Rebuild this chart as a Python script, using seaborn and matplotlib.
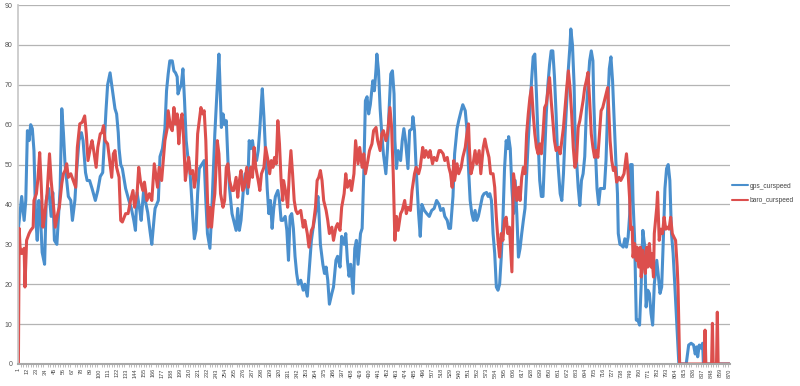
import pandas as pd
import matplotlib
matplotlib.use('Agg')
import matplotlib.pyplot as plt
import seaborn as sns

sns.set_theme(style='white')
plt.rcParams['font.family'] = ['Liberation Sans', 'DejaVu Sans']

# --- datos (índice de muestra, velocidad) ---
gps_idx = [1, 5, 8, 10, 12, 14, 16, 18, 20, 22, 24, 26, 28, 30, 33, 35, 38, 41, 43, 45,
           48, 50, 52, 54, 56, 58, 60, 62, 65, 67, 70, 72, 75, 78, 80, 83, 85, 88, 91, 95,
           98, 101, 104, 106, 108, 110, 113, 115, 117, 119, 121, 123, 124, 126, 128, 132, 136, 139, 142, 144,
           146, 149, 151, 154, 156, 159, 162, 164, 167,
           168, 172, 174, 177, 180, 182, 184, 186, 189, 191, 193, 195, 196, 198, 200, 202, 204, 206, 208, 210,
           212, 214, 216, 218, 220, 222, 225, 228, 230, 232, 235, 237, 239, 241, 244, 246, 247, 249, 251, 253,
           255, 257, 259, 262, 264, 267, 269, 271, 273, 276, 278, 281, 283, 285, 287, 290, 292, 294, 296, 298,
           299, 301, 303, 305, 307, 309, 311, 313, 315, 318, 320, 322, 324, 327, 329, 331, 333, 335, 337, 339,
           341, 343, 346, 349, 351, 354, 356, 359, 361, 364, 367, 368, 370, 373, 375, 377, 379, 381, 384, 386,
           389, 391, 394, 396, 399, 401, 403, 405, 407, 410, 412, 414, 416, 419, 421, 423, 425, 427, 429, 431,
           434, 436, 438, 439, 441, 443, 445, 447, 450, 452, 454, 456, 458, 460, 461, 463, 465, 468, 470, 472,
           474, 477, 479, 482, 483, 485, 487, 490, 492, 494, 497, 500, 503, 506, 509, 512,
           515, 517, 520, 522, 525, 527, 529, 532, 534, 537, 539, 542, 544, 547, 549, 551, 553, 555, 557, 559,
           561, 563, 565, 568, 570, 573, 575, 577, 579, 581, 583, 585, 587, 589, 591, 593, 595, 597, 599, 600,
           602, 604, 606, 608, 610, 612, 614, 616, 618, 620, 622, 624, 626, 628, 630, 632, 634, 636, 638, 640,
           642, 644, 646, 648, 650, 652, 654, 656, 658, 660, 663, 665, 667, 669, 671, 673, 675, 676, 678, 680,
           681, 683, 685, 687,
           689, 691, 693, 695, 697, 699, 701, 703, 704, 706, 708, 710, 712, 714, 717, 719, 721, 723, 725, 727,
           729, 731, 733, 734, 736, 738, 740, 742, 744, 746, 748, 749, 751, 752, 754, 756, 758, 760, 762, 764,
           766, 768, 770, 772, 774, 776, 778, 781, 783, 785, 787, 789, 791, 793, 795, 797, 799, 801, 803, 808,
           817, 820, 823, 826, 828, 830, 831, 833, 835, 837, 838, 870]
gps_speed = [34, 42, 36, 41, 58.5, 56, 60, 59, 53.5, 37, 31, 41, 37, 28, 25, 41, 44, 37, 43, 31,
             30, 37, 44, 64, 58, 50, 46, 42, 41, 36, 41, 48, 56, 58, 56, 48, 46, 46, 44, 41,
             43.5, 47, 48, 56, 63.5, 70, 73, 70, 67, 64, 62.7, 58, 54, 50, 49, 44, 41, 39, 36, 33.5,
             43, 39, 36, 43.5, 41, 38, 33, 30, 37,
             39, 41, 52, 54, 59, 68.5, 72.7, 76, 76, 73.5, 73, 72, 67.7, 69, 70, 74, 66, 56, 52, 50,
             44, 37, 31.4, 33.5, 42.7, 49, 50, 51, 41, 32.7, 29, 37, 47.7, 57.7, 70, 77.7, 72, 59.3, 62.7, 60,
             61, 51, 44, 37.7, 36, 33.5, 39, 33.5, 36, 44, 47.7, 42.7, 56, 54, 56, 51, 51, 53.5, 59, 66,
             69, 62, 52.7, 44, 37.7, 41, 34, 39, 42, 43.5, 41, 36, 36, 37, 33.5, 26, 37, 37.7, 34, 27,
             22.7, 20, 21, 18.5, 20, 17, 22.7, 31, 34, 37.7, 42, 39, 30, 25, 22.7, 24.3, 21, 15, 17.7, 19.3,
             26, 27, 24.3, 32, 30, 32.7, 26, 22, 25, 17.7, 29, 31, 25, 32.7, 34, 47.7, 66, 67, 62.7, 65,
             71, 68.5, 74, 77.7, 73.5, 64, 57.7, 52.7, 47.7, 54, 64, 72.7, 73.5, 67.7, 56, 49, 53.5, 51, 56, 59,
             56, 49, 58.5, 59, 62, 58.5, 49, 37.7, 32, 40, 38.5, 37.7, 37, 38.5, 39, 41,
             40, 38.5, 39, 37, 36, 34, 34, 42, 52.7, 59, 61, 63.5, 65, 63.5, 59, 49, 41, 37.7, 36, 38.5,
             36, 37, 39, 42, 42.7, 43, 42, 42.7, 41, 32.7, 27.7, 19.3, 18.5, 20, 26.8, 36, 49, 56, 54, 57,
             54, 44, 37.7, 46, 37.7, 26.8, 29, 32.7, 36, 39, 47.7, 56, 63.5, 71, 77, 77.7, 67.7, 56, 46, 42,
             42, 52.7, 62.7, 70, 75, 78.5, 78.5, 72, 62.7, 51, 42.7, 41, 47.7, 57.7, 66, 74, 80, 84, 80, 70,
             59.3, 51, 44.3, 39.75,
             46, 47.7, 52, 63.5, 70, 76, 78.5, 76, 66, 54, 44, 40, 44, 44, 44, 51, 64, 74, 77, 71,
             61, 51, 42.7, 32.7, 30, 29.75, 29.3, 31.4, 29.3, 31.8, 37.7, 50, 50, 41, 31, 11, 11, 9.75, 20, 33.5,
             30, 14.3, 18.5, 17.7, 12.7, 9.75, 20, 26, 22, 17.7, 19.3, 31, 44, 49, 50, 46, 32.7, 27.7, 20, 0,
             0, 4.75, 5.2, 4.75, 2.5, 4.3, 1.8, 4.75, 4, 5.2, 0, 0]

baro_idx = [1, 2, 3, 5, 8, 9, 11, 14, 16, 19, 20, 23, 25, 27, 29, 31, 33, 36, 39, 41,
            44, 46, 49, 51, 54, 56, 58, 60, 62, 65, 68, 71, 73, 76, 79, 82, 84, 86, 89, 91,
            93, 96, 98, 101, 103, 105, 107, 110, 112, 115, 117, 119, 121, 124, 126, 128, 132, 135, 138, 141,
            143, 146, 148, 150, 153, 155, 158, 161, 164, 167,
            171, 173, 176, 178, 180, 183, 184, 187, 189, 191, 193, 195, 197, 199, 201, 203, 205, 207, 209, 211,
            214, 216, 218, 220, 222, 224, 226, 228, 230, 232, 233, 235, 237, 239, 241, 243, 244, 246, 248, 251,
            253, 255, 257, 259, 262, 264, 267, 269, 271, 273, 275, 277, 280, 282, 285, 287, 289, 291, 294, 296,
            298, 301, 303, 306, 308, 310, 312, 314, 316, 318, 320, 322, 324, 325, 328, 330, 332, 334, 336, 338,
            340, 342, 346, 349, 351, 354, 356, 359, 361, 364, 366, 368, 370, 372, 374, 377, 379, 381, 384, 386,
            389, 391, 394, 396, 399, 401, 403, 406, 408, 411, 413, 416, 418, 421, 423, 425, 428, 430, 433, 435,
            438, 440, 443, 445, 447, 450, 452, 455, 457, 459, 461, 463, 465, 468, 470, 473, 475, 477, 480, 482,
            485, 487, 490, 492, 495, 497, 499, 502, 504, 507, 509, 512, 515,
            517, 520, 522, 525, 527, 529, 531, 533, 534, 537, 539, 542, 544, 547, 549, 551, 552, 554, 556, 559,
            561, 564, 566, 569, 571, 573, 576, 578, 581, 583, 585, 587, 589, 591, 593, 595, 597, 599, 601, 604,
            606, 608, 610, 612, 614, 616, 618, 620, 622, 624, 626, 628, 630, 632, 634, 636, 638, 640, 642, 644,
            646, 648, 650, 652, 654, 656, 658, 661, 663, 665, 667, 669, 671, 673, 675, 677, 679, 681, 683,
            685, 687, 689, 691, 693, 695, 697, 699, 701, 703, 705, 707, 709, 711, 713, 715, 717, 719, 721, 722,
            724, 726, 728, 730, 732, 735, 737, 739, 741, 743, 744, 746, 748, 749, 751, 752, 754, 756, 757, 759,
            761, 762, 764, 765, 767, 769, 770, 772, 774, 775, 777, 778, 781, 782, 784, 786, 788, 790, 792, 794,
            796, 798, 800, 802, 804, 806, 807, 809, 839, 840, 841, 848, 849, 850, 854, 855, 856, 870]
baro_speed = [0, 34, 29.3, 27.7, 29, 19.3, 31, 32.7, 33.5, 34.3, 41, 42.7, 46.8, 53, 44.3, 34.3, 37, 42.7, 52.7, 46,
              39.3, 34.3, 37.7, 39.3, 45.2, 47.7, 48.5, 50.2, 46.8, 47.7, 46, 44.3, 54.3, 60.2, 60.6, 62.2, 57.7, 51, 54.3, 56,
              53.5, 49.3, 54.3, 57.7, 58, 59.75, 56, 55.2, 51.8, 46.8, 52.7, 53.5, 49.3, 46.8, 36, 35.6, 37.7, 37.7, 41, 43.5,
              39.3, 42.7, 49.3, 46, 43.5, 45.6, 41, 42.7, 41, 50.2,
              44.3, 49.3, 46, 51, 56, 59.3, 63.5, 59.3, 58.5, 64.3, 60.2, 62.7, 55.2, 61, 62.7, 56, 46, 49.3, 51.8, 47.7,
              48.5, 44.3, 46.8, 57.7, 61, 64.3, 62.7, 63.5, 56, 41, 34.3, 39.3, 34.3, 39.3, 42.7, 51.8, 56, 52.7, 42.7, 39.3,
              41, 49.3, 50.2, 46, 43.5, 43.5, 46.8, 41.8, 46, 48.5, 43.5, 44.3, 49.3, 44.3, 49.3, 46.8, 54.3, 49.3, 46, 43.5,
              47.7, 49.3, 54.3, 51, 47.7, 51, 49.3, 51.8, 50.2, 61, 55.2, 46, 41, 46, 42.7, 39.3, 47.7, 53.5, 47.7, 41,
              38.5, 37.7, 38.5, 34.3, 36, 32.7, 29.3, 33.5, 34.3, 39.3, 46, 46.8, 48.5, 46, 41, 38.5, 36, 32.7, 34.3, 31,
              34.3, 35.2, 33.5, 39.3, 42.7, 47.7, 44.3, 46, 43.5, 47.7, 56, 50.2, 54.3, 49.3, 52.7, 47.7, 51, 53.5, 55.2, 58.5,
              59.3, 56, 53.5, 57.7, 58.5, 56, 57.7, 64.3, 59.3, 47.7, 31, 37, 33.5, 37.7, 38.5, 41, 37.7, 39.3, 38.5, 43.5,
              47.7, 49.3, 47.7, 49.3, 54.3, 51.8, 53.5, 51.8, 53.5, 50.2, 51.8, 51, 53.5,
              53.5, 52.7, 51, 51.8, 49.3, 47.7, 44.3, 51, 46, 50.2, 47.7, 49.3, 51.8, 54.3, 57.7, 60.2, 54.3, 47.7, 49.3, 53.5,
              50.2, 53.5, 47.7, 54.3, 56.4, 54.3, 51.8, 47.7, 47.7, 44.3, 36.8, 31, 26.8, 32.7, 31, 36, 36.8, 32.7, 34.3, 23.1,
              47.7, 44.3, 41, 44.3, 41, 46.8, 49.3, 47.7, 57.7, 62.7, 66.8, 69.3, 62.7, 57.7, 54.3, 52.7, 55.2, 52.7, 57.7, 64.3,
              65.2, 68.5, 71.8, 66, 61, 56, 53.5, 54.3, 52.7, 56, 59.3, 64.3, 69.3, 73.5, 69.3, 62.7, 54.3, 49.3, 51,
              59.3, 61, 63.5, 66, 69.3, 71, 73.1, 66, 57.7, 54.3, 51.8, 53.5, 51.8, 57.7, 63.5, 64.3, 66, 67.7, 69.3, 65.2,
              56, 51, 48.5, 49.3, 45.6, 46.8, 46, 46.8, 47.7, 51, 52.7, 47.7, 41, 33.8, 34.3, 26.8, 30.2, 26, 29.3, 24.3,
              29.3, 21.8, 28.5, 26, 22.7, 29.3, 24.3, 30.2, 24.3, 27.7, 21.8, 32.7, 39.3, 43.1, 31, 33.8, 32.7, 36.8, 33.8, 34.3,
              33.8, 36.8, 32.7, 31.8, 31, 24.3, 19.3, 0, 0, 8.5, 0, 0, 10.2, 0, 0, 13, 0, 0]

tick_labels = list(range(1, 871, 11))

df_gps = pd.DataFrame({'idx': gps_idx, 'speed': gps_speed})
df_baro = pd.DataFrame({'idx': baro_idx, 'speed': baro_speed})

# --- gráfico ---
fig = plt.figure(figsize=(8, 3.86), dpi=100)
ax = fig.add_axes([0.0225, 0.057, 0.89, 0.93])

sns.lineplot(data=df_gps, x='idx', y='speed', ax=ax, color='#4a8fcd', lw=2.2,
             estimator=None, label='gps_curspeed')
sns.lineplot(data=df_baro, x='idx', y='speed', ax=ax, color='#dc4f4d', lw=2.2,
             estimator=None, label='baro_curspeed')

ax.set_xlim(0.5, 870.5)
ax.set_ylim(0, 90)
ax.set_yticks(range(0, 91, 10))
ax.yaxis.grid(True, color='#b4b4b4', lw=0.9)
ax.set_axisbelow(True)
ax.set_xlabel('')
ax.set_ylabel('')
ax.tick_params(axis='y', labelsize=5, colors='#555555', length=0, pad=4)

ax.set_xticks(tick_labels)
ax.set_xticklabels([str(t) for t in tick_labels], rotation=90, fontsize=4, color='#444444')
ax.set_xticks(range(1, 871, 3), minor=True)
ax.tick_params(axis='x', which='major', length=2, color='#a0a0a0', pad=1)
ax.tick_params(axis='x', which='minor', length=2, color='#a0a0a0', width=0.5, bottom=True)

for side in ['top', 'right']:
    ax.spines[side].set_visible(False)
ax.spines['left'].set_color('#c8c8c8')
ax.spines['bottom'].set_color('#a8a8a8')
ax.spines['bottom'].set_linewidth(1.5)

leg = ax.legend(loc='center left', bbox_to_anchor=(1.003, 0.475), frameon=False,
                fontsize=4.8, handlelength=2.4, labelspacing=1.1, handletextpad=0.2,
                borderaxespad=0.0, borderpad=0.0)
for line in leg.get_lines():
    line.set_linewidth(1.5)
for txt in leg.get_texts():
    txt.set_color('#444444')

plt.savefig('out.png', dpi=100)
plt.close()
